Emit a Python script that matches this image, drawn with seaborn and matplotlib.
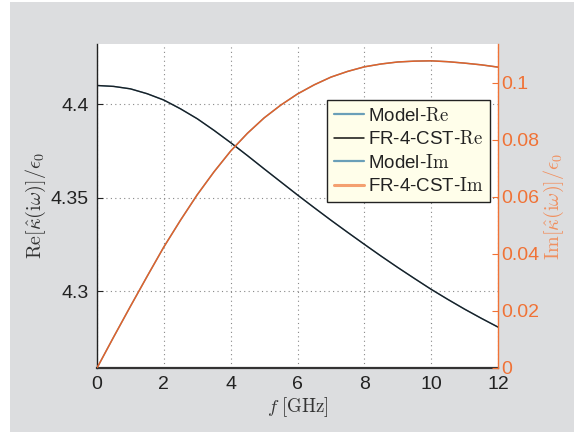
import numpy as np
import pandas as pd
import matplotlib
matplotlib.use("Agg")
import matplotlib.pyplot as plt
import seaborn as sns
from matplotlib.patches import Rectangle
from matplotlib.lines import Line2D

# ---- data ----
freq_ghz = [0, 0.5, 1, 1.5, 2, 2.5, 3, 3.5, 4, 4.5, 5, 5.5, 6, 6.5, 7, 7.5,
            8, 8.5, 9, 9.5, 10, 10.5, 11, 11.5, 12]
re_fr4 = [4.4100, 4.4095, 4.4082, 4.4056, 4.4022, 4.3975, 4.3922, 4.3860, 4.3794,
          4.3725, 4.3654, 4.3584, 4.3514, 4.3446, 4.3379, 4.3314, 4.3250, 4.3187,
          4.3126, 4.3067, 4.3009, 4.2955, 4.2903, 4.2854, 4.2807]
im_fr4 = [0.0, 0.0109, 0.0216, 0.0321, 0.0424, 0.0518, 0.0607, 0.0687, 0.0760,
          0.0822, 0.0876, 0.0921, 0.0960, 0.0992, 0.1019, 0.1039, 0.1055, 0.1065,
          0.1072, 0.1075, 0.1076, 0.1073, 0.1068, 0.1062, 0.1054]
re_model = list(re_fr4)
im_model = list(im_fr4)
x_ticks = [0, 2, 4, 6, 8, 10, 12]
re_ticks = [4.3, 4.35, 4.4]
re_tick_labels = ["4.3", "4.35", "4.4"]
im_ticks = [0, 0.02, 0.04, 0.06, 0.08, 0.1]
im_tick_labels = ["0", "0.02", "0.04", "0.06", "0.08", "0.1"]

sns.set_style("white")
plt.rcParams["mathtext.fontset"] = "cm"
plt.rcParams["font.family"] = ["Liberation Sans", "DejaVu Sans"]

fig = plt.figure(figsize=(5.74, 4.32), dpi=100, facecolor="white")
fig.patches.append(Rectangle((10 / 574, 0), 1 - 10 / 574, 1 - 2 / 432,
                             transform=fig.transFigure, facecolor="#DCDDDF",
                             edgecolor="none", zorder=-10))
ax = fig.add_axes([97 / 574, (432 - 368) / 432, 401 / 574, 324 / 432])
ax.set_facecolor("white")
ax2 = ax.twinx()

orange = "#E0622A"
axis_orange = "#F07236"
blue = "#6A9FB8"

n = len(freq_ghz)
df_re = pd.DataFrame({"f": freq_ghz * 2, "v": re_model + re_fr4,
                      "s": ["Model-Re"] * n + ["FR-4-CST-Re"] * n})
df_im = pd.DataFrame({"f": freq_ghz * 2, "v": im_model + im_fr4,
                      "s": ["Model-Im"] * n + ["FR-4-CST-Im"] * n})

sns.lineplot(data=df_re[df_re.s == "Model-Re"], x="f", y="v", ax=ax, color=blue, lw=1.0, legend=False)
sns.lineplot(data=df_re[df_re.s == "FR-4-CST-Re"], x="f", y="v", ax=ax, color="#1a1f24", lw=1.0, legend=False)
sns.lineplot(data=df_im[df_im.s == "Model-Im"], x="f", y="v", ax=ax2, color=blue, lw=1.0, legend=False)
sns.lineplot(data=df_im[df_im.s == "FR-4-CST-Im"], x="f", y="v", ax=ax2, color=orange, lw=1.1, legend=False)

ax.set_xlim(0, 12)
ax.set_ylim(4.2588, 4.4322)
ax2.set_ylim(0, 0.1135)
ax.set_xticks(x_ticks)
ax.set_xticklabels([str(t) for t in x_ticks])
ax.set_yticks(re_ticks)
ax.set_yticklabels(re_tick_labels)
ax2.set_yticks(im_ticks)
ax2.set_yticklabels(im_tick_labels)

ax.grid(True, linestyle=(0, (1, 3)), color="#888888", lw=0.8)
ax2.grid(False)

for s in ["top", "right"]:
    ax.spines[s].set_visible(False)
for s in ["top", "left", "bottom"]:
    ax2.spines[s].set_visible(False)
ax.spines["left"].set_color("#222222")
ax.spines["bottom"].set_color("#333333")
ax.spines["bottom"].set_linewidth(1.6)
ax.spines["left"].set_linewidth(1.0)
ax2.spines["right"].set_color(axis_orange)
ax2.spines["right"].set_linewidth(1.0)

ax.tick_params(axis="both", direction="in", length=4, labelsize=14, colors="#222222", pad=6)
ax2.tick_params(axis="y", direction="in", length=4, labelsize=14, colors=axis_orange, pad=2)

ax.set_xlabel(r"$f\ [\mathrm{GHz}]$", fontsize=13.5, color="#333333", labelpad=1)
ax.set_ylabel(r"$\mathrm{Re}[\hat{\kappa}(\mathrm{i}\omega)]/\epsilon_0$", fontsize=14.5,
              color="#333333", labelpad=2)
ax2.set_ylabel(r"$\mathrm{Im}[\hat{\kappa}(\mathrm{i}\omega)]/\epsilon_0$", fontsize=14.5,
               color="#F09060", labelpad=2)

handles = [Line2D([], [], color=blue, lw=1.6),
           Line2D([], [], color="#111111", lw=1.1),
           Line2D([], [], color=blue, lw=1.6),
           Line2D([], [], color="#F4A070", lw=2.2)]
labels = [r"Model-$\mathrm{Re}$", r"FR-4-CST-$\mathrm{Re}$", r"Model-$\mathrm{Im}$", r"FR-4-CST-$\mathrm{Im}$"]
leg = ax2.legend(handles, labels, loc="upper right", bbox_to_anchor=(0.98, 0.827),
                 borderaxespad=0, fontsize=13.5, frameon=True, fancybox=False,
                 handlelength=1.6, handletextpad=0.2, labelspacing=0.3, borderpad=0.35)
leg.get_frame().set_facecolor("#FFFEEA")
leg.get_frame().set_edgecolor("#222222")
leg.get_frame().set_linewidth(1.0)
leg.get_frame().set_alpha(1)
for t in leg.get_texts():
    t.set_color("#222222")

fig.savefig("out.png", dpi=100, facecolor=fig.get_facecolor())
